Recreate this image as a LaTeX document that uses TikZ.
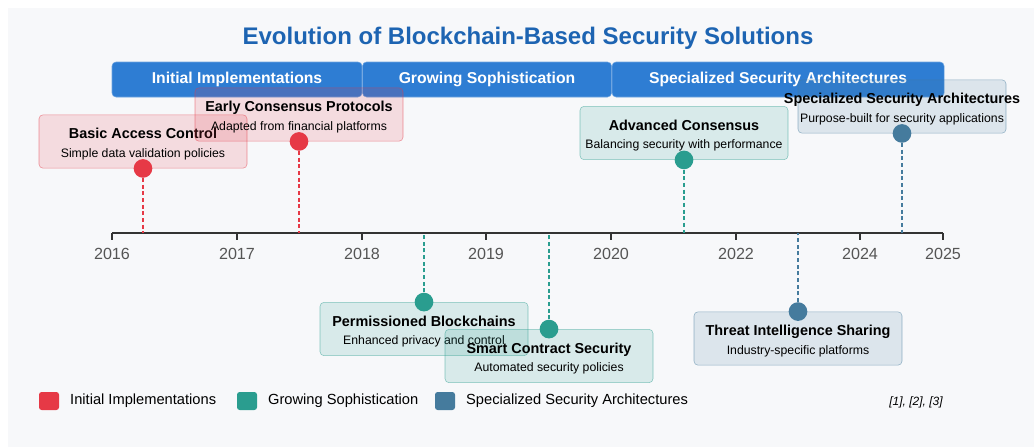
\documentclass[tikz,border=0pt]{standalone}
\usepackage{fontspec}
\setmainfont{Liberation Sans}
\usepackage{xcolor}
\usepackage{tikz}
\usetikzlibrary{positioning}
\definecolor{panelbg}{HTML}{F7F8FA}
\definecolor{titleblue}{HTML}{1D64B2}
\definecolor{phaseblue}{HTML}{2E7DD3}
\definecolor{axisgray}{HTML}{333333}
\definecolor{yeargray}{HTML}{555555}
\definecolor{initred}{HTML}{E63946}
\definecolor{growteal}{HTML}{2A9D8F}
\definecolor{specblue}{HTML}{457B9D}
\newcommand{\evlabel}[2]{{\bfseries\fontsize{10.8pt}{13pt}\selectfont #1}\\{\fontsize{9.2pt}{11pt}\selectfont #2}}

\begin{document}
\begin{tikzpicture}[x=0.75pt,y=-0.75pt,
  phase/.style={fill=phaseblue,draw=phaseblue!70!white,line width=0.4pt,rounded corners=3pt,
    minimum height=26.25pt,inner sep=0pt,text=white,font=\bfseries\fontsize{11.8pt}{14pt}\selectfont},
  evbox/.style={draw=#1,draw opacity=.55,fill=#1,fill opacity=.15,rounded corners=3pt,
    minimum width=156pt,minimum height=40pt,inner sep=0pt},
  evtext/.style={inner sep=0pt,align=center,font=\fontsize{9.2pt}{14.2pt}\selectfont},
  dot/.style={circle,fill=#1,minimum size=14pt,inner sep=0pt},
  link/.style={#1,dash pattern=on 3pt off 2pt,line width=1.1pt},
  legsq/.style={fill=#1,rounded corners=2pt,minimum width=15pt,minimum height=13.5pt,inner sep=0pt}]
  \useasboundingbox (0,0) rectangle (1034,447);
  \fill[white] (0,0) rectangle (1034,447);
  \fill[panelbg] (8,8) rectangle (1034,447);

  \node[text=titleblue,font=\bfseries\fontsize{18pt}{22pt}\selectfont] (title) at (528,38) {Evolution of Blockchain-Based Security Solutions};

  % phases
  \node[phase,minimum width=187.5pt] (phinit) at (237,79.5) {Initial Implementations};
  \node[phase,minimum width=186.75pt,right=0pt of phinit] (phgrow) {Growing Sophistication};
  \node[phase,minimum width=249pt,right=0pt of phgrow] (phspec) {Specialized Security Architectures};

  % axis
  \coordinate (axl) at (112,233);
  \coordinate (axr) at (943,233);
  \draw[axisgray,line width=2.2pt] (axl) -- (axr);
  \foreach \x/\yr in {112/2016,237/2017,362/2018,486/2019,611/2020,736/2022,860/2024,943/2025}{
    \draw[axisgray,line width=2.2pt] (\x,233) -- (\x,240);
    \node[text=yeargray,font=\fontsize{12.1pt}{14pt}\selectfont] (y\yr) at (\x,253.5) {\yr};
  }

  % events
  \foreach \nm/\x/\y/\col/\anc/\ttl/\sub in {
    basic/143/141.5/initred/south/{Basic Access Control}/{Simple data validation policies},
    early/299/114.5/initred/south/{Early Consensus Protocols}/{Adapted from financial platforms},
    perm/424/329/growteal/north/{Permissioned Blockchains}/{Enhanced privacy and control},
    smart/549/356/growteal/north/{Smart Contract Security}/{Automated security policies},
    adv/684/133/growteal/south/{Advanced Consensus}/{Balancing security with performance},
    spec/902/106.5/specblue/south/{Specialized Security Architectures}/{Purpose-built for security applications},
    threat/798/338.5/specblue/north/{Threat Intelligence Sharing}/{Industry-specific platforms}}{
    \node[evbox=\col] (\nm) at (\x,\y) {};
    \node[evtext] (lbl\nm) at ([yshift=-1.9pt]\nm.center) {\evlabel{\ttl}{\sub}};
    \node[dot=\col] (dot\nm) at (\nm.\anc) {};
    \draw[link=\col] (dot\nm) -- (dot\nm |- axl);
  }

  % legend
  \foreach \x/\col/\txt in {49/initred/Initial Implementations,247/growteal/Growing Sophistication,445/specblue/Specialized Security Architectures}{
    \node[legsq=\col] (leg\col) at (\x,401) {};
    \node[inner sep=0pt,font=\fontsize{11pt}{13pt}\selectfont,right=8pt of leg\col] (legtxt\col) {\txt};
  }
  \node[anchor=east,inner sep=0pt,font=\itshape\fontsize{9pt}{11pt}\selectfont] (refs) at (943,402) {[1], [2], [3]};
\end{tikzpicture}
\end{document}
